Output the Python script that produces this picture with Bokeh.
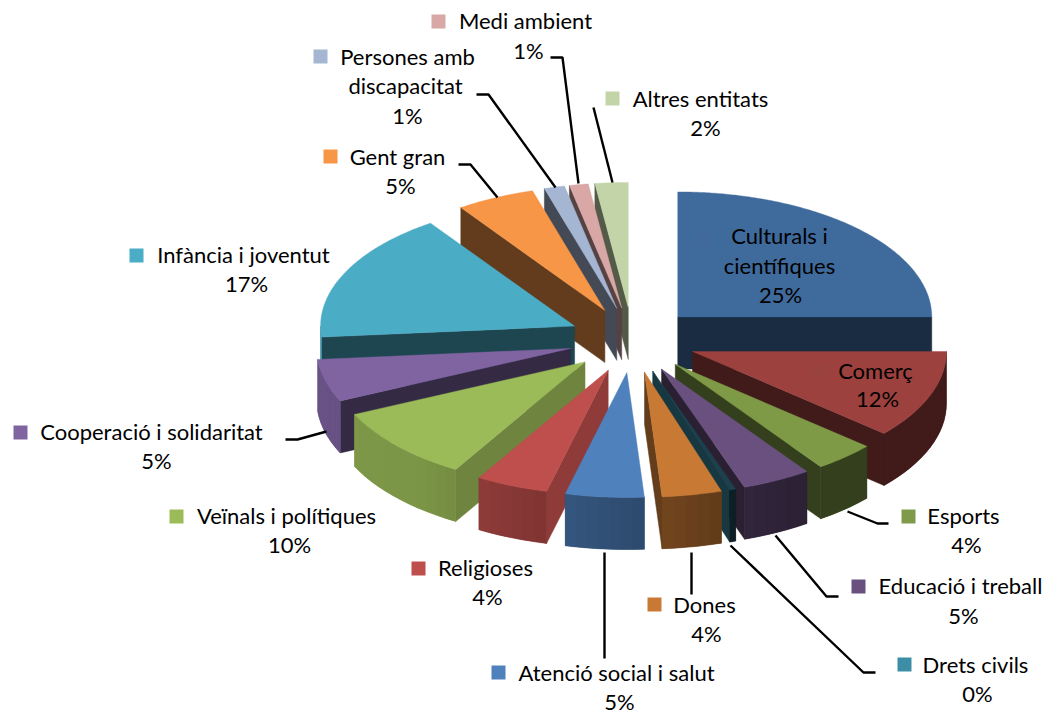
import numpy as np
from bokeh.plotting import figure
from bokeh.models import Range1d
from bokeh.core.properties import value
from bokeh.embed import file_html
from bokeh.resources import INLINE

categories = ["Culturals i científiques", "Comerç", "Esports", "Educació i treball",
              "Drets civils", "Dones", "Atenció social i salut", "Religioses",
              "Veïnals i polítiques", "Cooperació i solidaritat", "Infància i joventut",
              "Gent gran", "Persones amb discapacitat", "Medi ambient", "Altres entitats"]
shares = [25.0, 11.4, 3.9, 4.4, 0.4, 3.8, 5.0, 4.6, 9.6, 5.5, 16.8, 5.0, 1.3, 1.2, 2.1]
percent_labels = ["25%", "12%", "4%", "5%", "0%", "4%", "5%", "4%", "10%", "5%", "17%", "5%", "1%", "1%", "2%"]

# ---- style
top_colors = ["#3F6A9C", "#9C413E", "#7E9A47", "#69507F", "#1C414D", "#C87A35", "#4F81BD", "#BE4F4C",
              "#9BBB59", "#8064A2", "#4BACC6", "#F79646", "#A5B6D2", "#D8A7A6", "#C3D5A8"]
key_colors = ["#41699A", "#9A4240", "#7F9A48", "#69507F", "#3B8EA5", "#C87A35", "#4F81BD", "#BE4F4C",
              "#9BBB59", "#8064A2", "#4BACC6", "#F79646", "#A5B6D2", "#D8A7A6", "#C3D5A8"]
cut_shade = [.42, .42, .42, .40, .85, .50, .60, .75, .71, .42, .41, .40, .41, .40, .43]
shade_angle = [90, 130, 150, 165, 180, 200, 220, 270]
shade_level = [.42, .42, .42, .50, .60, .70, .80, .83]
CX, CY, RX, RY, DEPTH, EXPLODE, TILT = 632, 339.5, 254, 125, 52, 64, .51
FONT, FS = "Lato", "22px"

# layout of the labels: name lines (text, centre x, centre y), percent (centre x, centre y), key box (left, top)
name_lines = [
    [("Culturals i", 779, 235), ("científiques", 779, 265)],
    [("Comerç", 875, 370)],
    [("Esports", 963, 515)],
    [("Educació i treball", 960, 585)],
    [("Drets civils", 975, 664)],
    [("Dones", 704, 604)],
    [("Atenció social i salut", 616, 672)],
    [("Religioses", 485, 567)],
    [("Veïnals i polítiques", 286, 515)],
    [("Cooperació i solidaritat", 151, 431)],
    [("Infància i joventut", 243, 254)],
    [("Gent gran", 397, 156)],
    [("Persones amb", 407, 56), ("discapacitat", 405, 85)],
    [("Medi ambient", 525, 20)],
    [("Altres entitats", 700, 98)],
]
percent_pos = [(780, 294), (877, 398), (966, 544), (963, 615), (977, 693), (706, 633), (619, 701), (487, 596),
               (289, 544), (156, 460), (246, 283), (400, 185), (407, 115), (528, 50), (705, 127)]
key_boxes = [(697, 230), (811, 363), (901, 509), (851, 579), (897, 657), (647, 597), (491, 665), (411, 561),
             (169, 509), (13, 425), (129, 248), (323, 149), (313, 49), (431, 14), (605, 91)]
leaders = [
    [(550, 57), (562, 57), (578, 183)],
    [(476, 94), (488, 94), (555, 187)],
    [(593, 107), (612, 182)],
    [(458, 164), (470, 164), (497, 197)],
    [(285, 439), (297, 439), (326, 431)],
    [(604, 552), (604, 658)],
    [(691, 552), (691, 594)],
    [(730, 545), (863, 672), (875, 672)],
    [(775, 535), (826, 596), (838, 596)],
    [(847, 511), (877, 523), (888, 523)],
]


def shade(color, f):
    r, g, b = (int(color[i:i + 2], 16) for i in (1, 3, 5))
    return "#%02X%02X%02X" % (int(r * f), int(g * f), int(b * f))


p = figure(width=1049, height=714, x_range=Range1d(0, 1049), y_range=Range1d(714, 0),
           output_backend="svg", toolbar_location=None, min_border=0, outline_line_color=None)
p.axis.visible = False
p.grid.visible = False

fractions = np.array(shares) / sum(shares)
edges = np.concatenate([[0.0], np.cumsum(fractions) * 360.0])
mids = (edges[:-1] + edges[1:]) / 2
order = np.argsort(-np.cos(np.radians(mids)))  # back to front

for i in order:
    t0, t1, tm = edges[i], edges[i + 1], np.radians(mids[i])
    ax = CX + EXPLODE * np.sin(tm)
    ay = CY - EXPLODE * TILT * np.cos(tm)
    rim = lambda t: (ax + RX * np.sin(np.radians(t)), ay - RY * np.cos(np.radians(t)))
    top = top_colors[i]
    xs, ys, cs = [], [], []
    # cut walls that face the viewer
    for t, front in ((t0, np.sin(np.radians(t0)) < 0), (t1, np.sin(np.radians(t1)) > 0)):
        if front:
            rx_, ry_ = rim(t)
            xs.append([ax, rx_, rx_, ax])
            ys.append([ay, ry_, ry_ + DEPTH, ay + DEPTH])
            cs.append(shade(top, cut_shade[i]))
    if xs:
        p.patches(xs, ys, fill_color=cs, line_color=cs, line_width=0.5)
    # outer wall: a solid base, then short strips so that the shading varies with the angle
    a0, a1 = max(t0, 90.0), min(t1, 270.0)
    if a1 > a0:
        steps = max(1, int((a1 - a0) / 2.5))
        grid = np.linspace(a0, a1, steps + 1)
        base = shade(top, float(np.interp((a0 + a1) / 2, shade_angle, shade_level)))
        bx = [rim(t)[0] for t in grid]
        by = [rim(t)[1] for t in grid]
        p.patch(bx + bx[::-1], by + [v + DEPTH for v in by[::-1]], fill_color=base, line_color=base, line_width=0.5)
        xs, ys, cs = [], [], []
        for u, v in zip(grid[:-1], grid[1:]):
            (x0, y0), (x1, y1) = rim(u), rim(v)
            xs.append([x0, x1, x1, x0])
            ys.append([y0, y1, y1 + DEPTH, y0 + DEPTH])
            cs.append(shade(top, float(np.interp((u + v) / 2, shade_angle, shade_level))))
        p.patches(xs, ys, fill_color=cs, line_color=None)
    # top face
    arc = np.linspace(t0, t1, max(3, int((t1 - t0) * 2) + 1))
    px = [ax] + [rim(t)[0] for t in arc]
    py = [ay] + [rim(t)[1] for t in arc]
    p.patch(px, py, fill_color=top, line_color=top, line_width=0.4)

# leader lines
p.multi_line([[a for a, _ in l] for l in leaders], [[b for _, b in l] for l in leaders],
              line_color="black", line_width=2.4)

# legend keys and labels
for i, name in enumerate(categories):
    kx, ky = key_boxes[i]
    p.quad(left=[kx], right=[kx + 14], top=[ky], bottom=[ky + 14], fill_color=key_colors[i], line_color=None)
    for txt, x, y in name_lines[i] + [(percent_labels[i], *percent_pos[i])]:
        p.text([x], [y], text=[txt], text_font=value(FONT), text_font_size=FS, text_color="black",
               text_align="center", text_baseline="middle")

open("out.html", "w").write(file_html(p, INLINE))
